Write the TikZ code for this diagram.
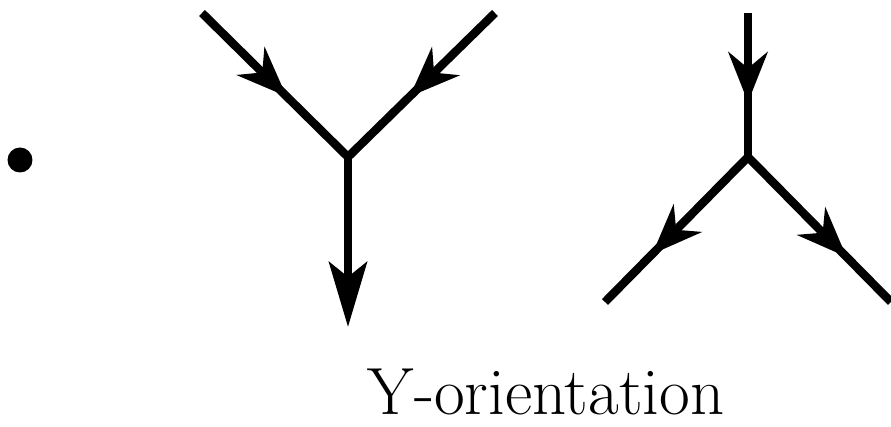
\documentclass[tikz,border=0pt]{standalone}
\usetikzlibrary{arrows.meta,decorations.markings}

\tikzset{
  leg/.style ={line width=2.4pt},
  midarrow/.style={postaction={decorate},
    decoration={markings,
      mark=at position #1 with {\arrow{Stealth[length=5mm,width=3.9mm,inset=1.6mm]}}}},
  endarrow/.style={-{Stealth[length=6.5mm,width=3.8mm,inset=1.5mm]}},
  dot/.style={circle, fill=black, minimum size=0.25cm, inner sep=0pt},
}

\begin{document}
\begin{tikzpicture}
  \useasboundingbox (0,0) rectangle (8.91,4.27);
  \node[dot] (d) at (0.20, 2.67) {};
  % first Y: two in, one out
  \coordinate (a) at (3.48, 2.70);
  \coordinate (a1) at (2.02, 4.14);
  \coordinate (a2) at (4.95, 4.14);
  \coordinate (a3) at (3.48, 1.00);
  % second Y: one in, two out
  \coordinate (b) at (7.48, 2.70);
  \coordinate (b1) at (7.48, 4.14);
  \coordinate (b2) at (6.05, 1.25);
  \coordinate (b3) at (8.91, 1.25);
  \node[anchor=base] (lbl) at (5.46, 0.12) {\fontsize{19}{22}\selectfont Y-orientation};
  \draw[leg, midarrow=0.58] (a1) -- (a);
  \draw[leg, midarrow=0.58] (a2) -- (a);
  \draw[leg, endarrow] (a) -- (a3);
  \draw[leg, midarrow=0.62] (b1) -- (b);
  \draw[leg, midarrow=0.67] (b) -- (b2);
  \draw[leg, midarrow=0.69] (b) -- (b3);
\end{tikzpicture}
\end{document}
